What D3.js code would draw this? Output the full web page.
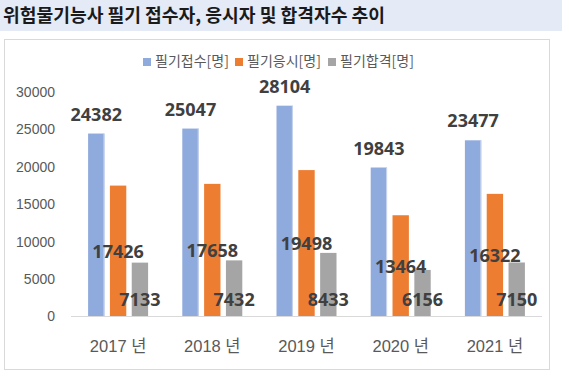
<!DOCTYPE html>
<html><head><meta charset="utf-8">
<script src="https://cdn.jsdelivr.net/npm/d3@7"></script>
<style>
body{margin:0;background:#fff;}
svg{display:block;}
</style></head>
<body>
<svg id="c" width="562" height="380"></svg>
<script>
const title = "위험물기능사 필기 접수자, 응시자 및 합격자수 추이";
const categories = ["2017 년", "2018 년", "2019 년", "2020 년", "2021 년"];
const seriesNames = ["필기접수[명]", "필기응시[명]", "필기합격[명]"];
const applied = [24382, 25047, 28104, 19843, 23477];
const tested = [17426, 17658, 19498, 13464, 16322];
const passed = [7133, 7432, 8433, 6156, 7150];
const yTicks = [0, 5000, 10000, 15000, 20000, 25000, 30000];
const colors = ["#8FAADC", "#ED7D31", "#A5A5A5"];
const seriesValues = [applied, tested, passed];
const labelPos = ["outsideEnd", "insideCenter", "insideBase"];

const svg = d3.select("#c");
const KFONT = "'Noto Sans CJK KR','Noto Sans',sans-serif";
const NFONT = "'Liberation Sans',Arial,'Noto Sans CJK KR',sans-serif";

// title bar
svg.append("rect").attr("x",0).attr("y",0).attr("width",562).attr("height",31).attr("fill","#E4EAF6");
svg.append("text").attr("x",3).attr("y",22).text(title)
  .attr("font-family",KFONT).attr("font-weight","bold").attr("font-size",18.2).attr("fill","#1a1a1a");

// chart frame
svg.append("rect").attr("x",4.5).attr("y",39.5).attr("width",545).attr("height",330)
  .attr("fill","#fff").attr("stroke","#D9D9D9");

const x0 = d3.scaleBand().domain(categories).range([71,542]).paddingInner(0.363).paddingOuter(0.1815);
const x1 = d3.scaleBand().domain(d3.range(3)).range([0,x0.bandwidth()]).paddingInner(0.25).paddingOuter(0);
const y = d3.scaleLinear().domain([0,30000]).range([316,91.5]);

// y axis labels
const yAxis = d3.axisLeft(y).tickValues(yTicks).tickSize(0).tickPadding(0).tickFormat(d3.format("d"));
const ya = svg.append("g").attr("transform","translate(55,0)").call(yAxis);
ya.select(".domain").remove();
ya.selectAll("text").attr("font-family",NFONT).attr("font-size",14).attr("fill","#595959").attr("dy","0.35em");

// bars
categories.forEach((c,i)=>{
  seriesValues.forEach((vals,s)=>{
    const v = vals[i];
    const bx = x0(c)+x1(s);
    svg.append("rect").attr("x",bx).attr("y",y(v)).attr("width",x1.bandwidth()).attr("height",y(0)-y(v))
      .attr("fill",colors[s]);
    if(s===0){
      svg.append("rect").attr("x",bx+x1.bandwidth()-1).attr("y",y(v)).attr("width",1).attr("height",y(0)-y(v))
        .attr("fill","#C9D6EE");
    }
  });
});

// baseline
const xa = svg.append("g").attr("transform","translate(0,316)").call(d3.axisBottom(x0).tickSize(0).tickPadding(0));
xa.select(".domain").attr("stroke","#D9D9D9").attr("d","M71,0.5H542");
xa.selectAll("text").attr("font-family",NFONT).attr("font-size",16.5).attr("fill","#595959").attr("dy",0).attr("y",36);

// value labels
categories.forEach((c,i)=>{
  seriesValues.forEach((vals,s)=>{
    const v = vals[i];
    const cx = x0(c)+x1(s)+x1.bandwidth()/2;
    let ly;
    if(labelPos[s]==="outsideEnd") ly = y(v)-13;
    else if(labelPos[s]==="insideCenter") ly = (y(v)+y(0))/2 + 7;
    else ly = 306;
    svg.append("text").attr("x",cx).attr("y",ly).attr("text-anchor","middle").text(v)
      .attr("font-family","'Open Sans','Liberation Sans',sans-serif").attr("font-weight","bold")
      .attr("font-size",18).attr("fill","#404040");
  });
});

// legend
const legX = [143, 235, 328];
seriesNames.forEach((n,s)=>{
  svg.append("rect").attr("x",legX[s]).attr("y",58).attr("width",8).attr("height",8).attr("fill",colors[s]);
  svg.append("text").attr("x",legX[s]+12).attr("y",66).text(n)
    .attr("font-family",KFONT).attr("font-size",14).attr("fill","#595959");
});
</script>
</body></html>
